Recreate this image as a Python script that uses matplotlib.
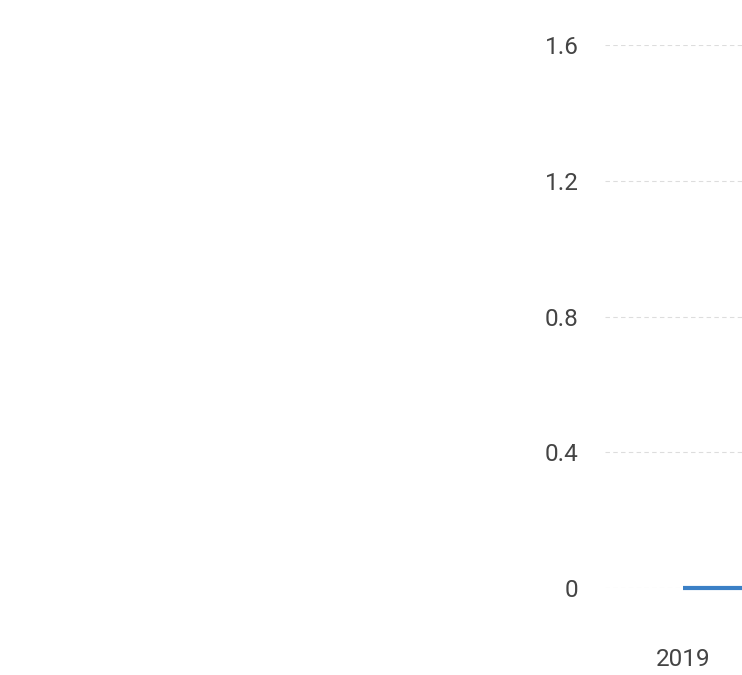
import matplotlib.pyplot as plt

years = [2019, 2020]
values = [0, 0]
y_ticks = [0, 0.4, 0.8, 1.2, 1.6]
y_tick_labels = ['0', '0.4', '0.8', '1.2', '1.6']
x_ticks = [2019]
x_tick_labels = ['2019']

plt.rcParams['font.family'] = ['Roboto', 'DejaVu Sans']

fig = plt.figure(figsize=(7.42, 6.75), dpi=100)
ax = fig.add_axes([605 / 742, 87 / 675, 137 / 742, 543 / 675])

ax.plot(years, values, color='#3b80c6', linewidth=3, solid_capstyle='butt',
        clip_on=False, zorder=3)

# 2019 sits at about x=682 px
ax.set_xlim(2018.43, 2019.43)
ax.set_ylim(0, 1.6)
ax.set_yticks(y_ticks)
ax.set_yticklabels(y_tick_labels)
ax.set_xticks(x_ticks)
ax.set_xticklabels(x_tick_labels)

ax.tick_params(axis='y', length=0, pad=19, labelsize=17.5, labelcolor='#444444')
ax.tick_params(axis='x', length=0, pad=43, labelsize=17.5, labelcolor='#444444')
ax.yaxis.grid(True, color='#dddddd', linestyle=(0, (4, 3)), linewidth=0.8)
ax.xaxis.grid(False)
for s in ax.spines.values():
    s.set_visible(False)

fig.savefig('out.png', dpi=100)
